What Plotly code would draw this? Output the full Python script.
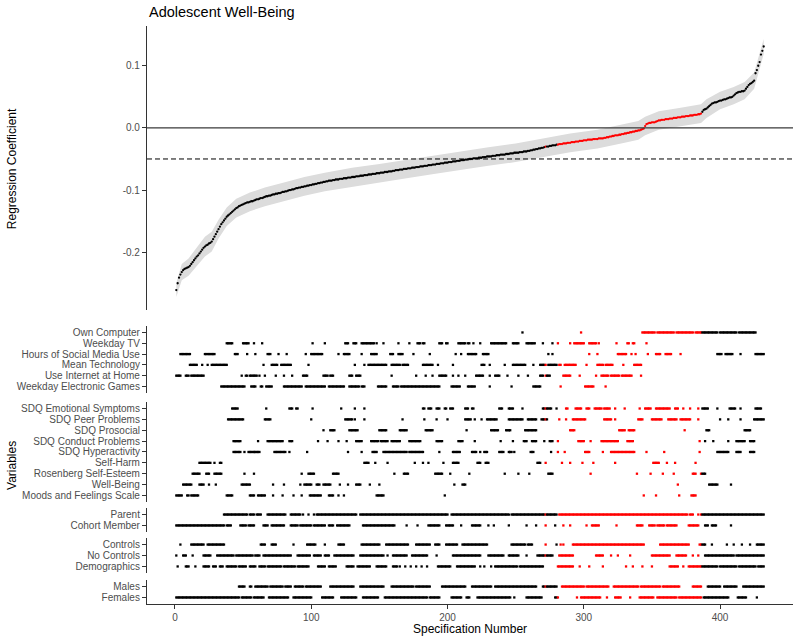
import plotly.graph_objects as go

chart_title = "Adolescent Well-Being"
y_title_top = "Regression Coefficient"
y_title_bottom = "Variables"
x_title = "Specification Number"

# Sorted regression coefficients, specifications 1..432
coef = [
    -0.261, -0.250, -0.241, -0.236, -0.232, -0.229, -0.227, -0.226, -0.225, -0.224,
    -0.222, -0.219, -0.216, -0.213, -0.210, -0.207, -0.205, -0.202, -0.199, -0.196,
    -0.193, -0.191, -0.189, -0.188, -0.186, -0.185, -0.183, -0.179, -0.175, -0.171,
    -0.167, -0.163, -0.159, -0.155, -0.152, -0.149, -0.146, -0.143, -0.141, -0.139,
    -0.137, -0.135, -0.133, -0.131, -0.129, -0.128, -0.126, -0.125, -0.124, -0.123,
    -0.122, -0.121, -0.120, -0.120, -0.119, -0.118, -0.118, -0.117, -0.116, -0.115,
    -0.115, -0.114, -0.113, -0.113, -0.112, -0.111, -0.110, -0.110, -0.109, -0.109,
    -0.108, -0.107, -0.107, -0.106, -0.106, -0.105, -0.105, -0.104, -0.103, -0.103,
    -0.102, -0.102, -0.101, -0.100, -0.100, -0.099, -0.099, -0.098, -0.097, -0.097,
    -0.096, -0.096, -0.095, -0.095, -0.094, -0.094, -0.093, -0.093, -0.092, -0.092,
    -0.091, -0.091, -0.090, -0.090, -0.089, -0.089, -0.088, -0.088, -0.087, -0.087,
    -0.086, -0.086, -0.085, -0.085, -0.085, -0.084, -0.084, -0.083, -0.083, -0.083,
    -0.082, -0.082, -0.082, -0.081, -0.081, -0.081, -0.080, -0.080, -0.080, -0.079,
    -0.079, -0.079, -0.078, -0.078, -0.078, -0.077, -0.077, -0.077, -0.076, -0.076,
    -0.076, -0.075, -0.075, -0.075, -0.074, -0.074, -0.074, -0.073, -0.073, -0.073,
    -0.072, -0.072, -0.072, -0.071, -0.071, -0.071, -0.070, -0.070, -0.070, -0.069,
    -0.069, -0.068, -0.068, -0.068, -0.067, -0.067, -0.067, -0.066, -0.066, -0.066,
    -0.065, -0.065, -0.065, -0.064, -0.064, -0.064, -0.063, -0.063, -0.063, -0.062,
    -0.062, -0.062, -0.061, -0.061, -0.061, -0.060, -0.060, -0.060, -0.059, -0.059,
    -0.059, -0.058, -0.058, -0.058, -0.057, -0.057, -0.057, -0.056, -0.056, -0.056,
    -0.055, -0.055, -0.055, -0.054, -0.054, -0.054, -0.053, -0.053, -0.053, -0.052,
    -0.052, -0.052, -0.051, -0.051, -0.051, -0.050, -0.050, -0.050, -0.049, -0.049,
    -0.049, -0.049, -0.048, -0.048, -0.048, -0.047, -0.047, -0.047, -0.046, -0.046,
    -0.046, -0.046, -0.045, -0.045, -0.045, -0.044, -0.044, -0.044, -0.043, -0.043,
    -0.043, -0.043, -0.042, -0.042, -0.042, -0.041, -0.041, -0.041, -0.040, -0.040,
    -0.040, -0.040, -0.039, -0.039, -0.039, -0.038, -0.038, -0.038, -0.037, -0.037,
    -0.036, -0.036, -0.035, -0.035, -0.034, -0.034, -0.033, -0.033, -0.032, -0.032,
    -0.031, -0.030, -0.030, -0.030, -0.029, -0.029, -0.028, -0.028, -0.028, -0.027,
    -0.027, -0.026, -0.026, -0.026, -0.025, -0.025, -0.025, -0.024, -0.024, -0.024,
    -0.023, -0.023, -0.023, -0.022, -0.022, -0.022, -0.021, -0.021, -0.021, -0.020,
    -0.020, -0.020, -0.019, -0.019, -0.019, -0.019, -0.018, -0.018, -0.018, -0.018,
    -0.017, -0.017, -0.017, -0.017, -0.016, -0.016, -0.015, -0.015, -0.014, -0.014,
    -0.013, -0.013, -0.012, -0.012, -0.012, -0.011, -0.011, -0.010, -0.010, -0.009,
    -0.009, -0.008, -0.008, -0.007, -0.007, -0.006, -0.006, -0.005, -0.005, -0.004,
    -0.004, -0.003, -0.002, -0.001, 0.003, 0.006, 0.007, 0.008, 0.008, 0.009,
    0.009, 0.009, 0.010, 0.011, 0.012, 0.012, 0.013, 0.013, 0.013, 0.014,
    0.014, 0.014, 0.015, 0.015, 0.015, 0.016, 0.016, 0.016, 0.017, 0.017,
    0.017, 0.018, 0.018, 0.018, 0.019, 0.019, 0.019, 0.020, 0.020, 0.020,
    0.021, 0.021, 0.021, 0.022, 0.022, 0.023, 0.026, 0.029, 0.030, 0.031,
    0.033, 0.035, 0.037, 0.039, 0.040, 0.041, 0.041, 0.042, 0.043, 0.044,
    0.044, 0.045, 0.046, 0.046, 0.047, 0.048, 0.049, 0.049, 0.050, 0.052,
    0.054, 0.056, 0.057, 0.058, 0.058, 0.059, 0.059, 0.060, 0.063, 0.066,
    0.069, 0.071, 0.072, 0.074, 0.076, 0.088, 0.093, 0.100, 0.106, 0.118,
    0.124, 0.131,
]

# Confidence band outline (read at selected specifications)
band_spec = [1, 5, 10, 17, 22, 27, 32, 38, 45, 55, 66, 80, 95, 110, 130, 150, 170, 190, 210,
             230, 250, 270, 290, 310, 330, 340, 345, 355, 370, 386, 390, 400, 410, 418, 425, 428, 432]
band_low = [-0.272, -0.245, -0.238, -0.220, -0.207, -0.199, -0.178, -0.158, -0.144, -0.134,
            -0.126, -0.118, -0.109, -0.102, -0.094, -0.088, -0.081, -0.074, -0.067, -0.061,
            -0.055, -0.047, -0.039, -0.033, -0.024, -0.019, -0.012, -0.003, 0.002, 0.008,
            0.016, 0.030, 0.038, 0.046, 0.063, 0.088, 0.119]
band_high = [-0.250, -0.219, -0.210, -0.190, -0.175, -0.167, -0.148, -0.128, -0.114, -0.104,
             -0.096, -0.088, -0.079, -0.072, -0.064, -0.058, -0.051, -0.044, -0.037, -0.031,
             -0.025, -0.017, -0.009, -0.003, 0.006, 0.011, 0.018, 0.027, 0.032, 0.038,
             0.046, 0.058, 0.066, 0.074, 0.089, 0.112, 0.143]

reference_line = -0.05

# Specifications whose interval includes zero (drawn red)
nonsig_ranges = "272 281-386"

tech_labels = ["Own Computer", "Weekday TV", "Hours of Social Media Use", "Mean Technology",
               "Use Internet at Home", "Weekday Electronic Games"]
tech_specs = [
    "255 298 343-352 354-366 368-380 382-398 400-412 414-426",
    "38-42 50-54 58 64 101 110 125-127 131-133 137-146 148 153 164 172 178-180 182-183 194-196 "
    "199-200 208-213 215-216 219 224 232-243 248-252 258-264 270 277 281 290 293-300 304-309 311 324 "
    "332-333 336-337 346",
    "4-11 22-29 44-46 53 59 68-70 76 82 96 100-108 120 124-128 137 144-148 158-160 164-167 175 187 "
    "206 210 215-221 226-230 274 277 304 310 325-331 335 338 347 353-356 360-364 371 398-401 "
    "404-409 415 426-432",
    "11-16 20 24 27-38 65 71-75 78-85 98 132 139 142-155 159-165 167-171 182-189 193 204 225-227 "
    "231 242 248-257 263 268-272 274-280 282-283 286-294 302 310-314 316-321 329 337-342",
    "1-4 8-10 12-21 49 52-53 55-60 62 66 74 80 86 94-97 109-112 114-116 128-130 133-136 159 177 "
    "184 189 194-199 204 208 213 221-226 231 235-238 244 252 259 268-270 272-275 285-290 297 309 "
    "313-318 320-326 328-335 342",
    "34-51 56-59 63-64 67-71 80-93 96-110 113-124 128-135 137-139 149-155 160-164 166-194 203-209 "
    "215-220 231 247 263-268 283 301-307 316",
]

outcome_labels = ["SDQ Emotional Symptoms", "SDQ Peer Problems", "SDQ Prosocial",
                  "SDQ Conduct Problems", "SDQ Hyperactivity", "Self-Harm",
                  "Rosenberg Self-Esteem", "Well-Being", "Moods and Feelings Scale"]
outcome_specs = [
    "42-46 67 84-86 89-90 101 122 132 139 182-183 186-188 192-194 198-199 202-204 213-215 218-219 "
    "238-240 245-248 255 270-276 280 287-288 294-298 302-304 308-313 315-319 323 330 341 345-349 "
    "353-363 367-369 373 378 384 387-391 398 407-411 415 426-430",
    "39-50 66-70 100 125-130 132 139 167 183 192 200 213-217 220 225 229-236 245-255 259-265 "
    "269-273 282 287 292-301 315-320 323 340-343 350-357 362-368 371-378 384 400 406 415 425-432",
    "109 114-117 128-134 150-155 165-170 184-189 214 232-237 243-246 257-265 290-293 326-330 "
    "333-337 374 390-392 418-422",
    "43-48 61 68-79 84-86 105 112 120 126 133-137 144-149 151-156 159-165 172-180 192-196 208-211 "
    "220 239 248 256-258 262-265 271 275-277 281 296-300 305 313-325 332-336 385 389 395 406 "
    "412-418 422-425",
    "43-48 51 54-62 73-81 84 97 127 137 145-148 153-170 172-182 194 204-209 218-221 224 227-229 "
    "238-241 245-247 249 261-263 276 281 286 301-304 314 320-337 346 359 385 398-406 412-415 422-425",
    "18-26 29 33-34 139-142 147 156 176 182 186 197 204-208 222-224 228-230 266-268 272 284 290 "
    "299 307 323 351-355 361 367 382",
    "13-18 23-25 29-34 51 58 93 98-102 116-120 161 168-171 191-196 202 216 242 252 260 274-277 "
    "305 339 349 358 366 380-382 386-389",
    "6-12 18-21 25 30 49-55 72 80 92 95-100 104-106 109-114 121 127 133-136 143 150 205 211-213 "
    "369 392-398 408",
    "1-5 9-10 12-17 38-42 55-58 61-66 72 79 87 93 99-107 113-116 120 124 148-153 198 344 353 370 "
    "379-382",
]

respondent_labels = ["Parent", "Cohort Member"]
respondent_specs = [
    "36-53 55-58 60-63 68-81 85-92 94 98 102 104-133 136-200 203-245 247-280 282-376 378-380 384 "
    "386-432",
    "1-36 38-41 48-52 54-58 65-68 71-80 85-90 92-100 102-110 113-116 119-128 138-161 170 178 "
    "186-194 199-204 210 218-224 230 234 245 258 265 272 279 285 290 302 306-311 324 339-343 "
    "348-352 354-359 361-368 377-384 389-391 394-397 408",
]

control_labels = ["Controls", "No Controls", "Demographics"]
control_specs = [
    "4 12-21 24-36 63-66 71-74 87 97-103 110 120-124 137-150 155-171 177-187 191-194 199-207 "
    "211-229 247-257 259-262 272 280 283 285 292-344 356-377 385-389 394 405 410 416 422 427-432",
    "1 6-8 13 21-26 31-43 45-57 59-62 65-85 90-99 102-107 110-113 117-131 136-153 156 160-170 "
    "174-185 192 204-224 230-241 245-252 258 266-277 282-292 309-314 320 325 334 350-363 368-375 "
    "380 384 389-410 412-432",
    "2 8-10 15 21-25 28-30 33-35 38-45 47-52 55-59 62-66 68-78 80-88 90-98 105-110 113-118 "
    "126-131 134-143 148-155 160-163 165 169 173 177 181 185 193-202 207-220 224 227 232 235-251 "
    "253-270 281-292 297 304 314 331 336 343 350 363-369 373 377-398 400-412 414-426 428-432",
]

sex_labels = ["Males", "Females"]
sex_specs = [
    "47-51 55-56 59-68 70-79 81-85 88-94 96-107 114-131 136-153 159-175 177-187 196-213 218-232 "
    "235-265 270-280 284-300 302-318 322-340 342-356 358-370 380-386 391-400 403-412 417-432",
    "1-47 49-56 58-65 69-83 87-100 108-116 122-133 138-149 154-185 187-194 203-210 214-216 "
    "222-246 249 258-269 279-281 295 298-312 317 323-327 334 341-351 354-368 370-386 388-406 "
    "413-419 427",
]

x_tick_values = [0, 100, 200, 300, 400]
y_tick_values = [-0.2, -0.1, 0.0, 0.1]
y_tick_labels = ["-0.2", "-0.1", "0.0", "0.1"]


def expand(text):
    out = []
    for tok in text.split():
        if "-" in tok:
            a, b = tok.split("-")
            out.extend(range(int(a), int(b) + 1))
        else:
            out.append(int(tok))
    return out


FONT = "Liberation Sans, Arial, Helvetica, sans-serif"
RED = "#ff0000"
BLACK = "#000000"
AXIS = "#333333"
TICKFONT = dict(family=FONT, size=10, color="#4d4d4d")

nonsig = set(expand(nonsig_ranges))
spec = list(range(1, len(coef) + 1))
coef_colors = [RED if s in nonsig else BLACK for s in spec]

fig = go.Figure()

# confidence band
fig.add_trace(go.Scatter(
    x=band_spec + band_spec[::-1], y=band_high + band_low[::-1],
    fill="toself", fillcolor="#dcdcdc", line=dict(width=0), mode="lines",
    hoverinfo="skip", showlegend=False, xaxis="x", yaxis="y"))

fig.add_trace(go.Scatter(
    x=spec, y=coef, mode="markers",
    marker=dict(size=2.3, color=coef_colors, line=dict(width=0)),
    showlegend=False, xaxis="x", yaxis="y"))

groups = [(tech_labels, tech_specs), (outcome_labels, outcome_specs),
          (respondent_labels, respondent_specs), (control_labels, control_specs),
          (sex_labels, sex_specs)]
# facet domains (paper fractions)
domains = [[0.3651, 0.4810], [0.1765, 0.3495], [0.1246, 0.1661], [0.0536, 0.1142], [0.0, 0.0415]]
x_range = [-20.5, 453.5]

layout = dict(
    width=800, height=640,
    margin=dict(l=147, r=7, t=26, b=36),
    paper_bgcolor="white", plot_bgcolor="white",
    showlegend=False,
    font=dict(family=FONT, color="black"),
    xaxis=dict(domain=[0, 1], range=x_range, anchor="y", showline=False, showgrid=False,
               zeroline=False, showticklabels=False, ticks=""),
    yaxis=dict(domain=[0.5087, 1.0], range=[-0.293, 0.164], anchor="x",
               tickvals=y_tick_values, ticktext=y_tick_labels, tickfont=TICKFONT,
               ticks="outside", ticklen=4, tickcolor=AXIS, showline=True, linecolor=AXIS,
               linewidth=1.1, showgrid=False, zeroline=False, automargin=False),
)

for gi, (labels, specs) in enumerate(groups):
    n = len(labels)
    xs, ys, cs = [], [], []
    for i, s in enumerate(specs):
        for v in expand(s):
            xs.append(v)
            ys.append(n - 1 - i)
            cs.append(RED if v in nonsig else BLACK)
    k = gi + 2
    fig.add_trace(go.Scatter(
        x=xs, y=ys, mode="markers",
        marker=dict(symbol="square", size=2.3, color=cs, line=dict(width=0)),
        showlegend=False, xaxis=f"x{k}", yaxis=f"y{k}"))
    last = gi == len(groups) - 1
    layout[f"xaxis{k}"] = dict(
        domain=[0, 1], range=x_range, anchor=f"y{k}", matches="x",
        showline=last, linecolor=AXIS, linewidth=1.1, showgrid=False, zeroline=False,
        showticklabels=last, ticks="outside" if last else "", ticklen=4, tickcolor=AXIS,
        tickvals=x_tick_values, tickfont=TICKFONT, automargin=False)
    layout[f"yaxis{k}"] = dict(
        domain=domains[gi], range=[-0.6, n - 0.4], anchor=f"x{k}",
        tickvals=list(range(n)), ticktext=labels[::-1], tickfont=TICKFONT,
        ticks="outside", ticklen=4, tickcolor=AXIS, showline=True, linecolor=AXIS,
        linewidth=1.1, showgrid=False, zeroline=False, automargin=False)

fig.update_layout(**layout)

# zero line and reference (dashed) line in the top panel
fig.add_shape(type="line", xref="x domain", yref="y", x0=0, x1=1, y0=0, y1=0,
              line=dict(color="#3a3a3a", width=1.3))
fig.add_shape(type="line", xref="x domain", yref="y", x0=0, x1=1,
              y0=reference_line, y1=reference_line,
              line=dict(color="black", width=1, dash="5px,3px"))

annotations = [
    dict(text=chart_title, xref="paper", yref="paper", x=0, y=1, xanchor="left",
         yanchor="middle", yshift=14, showarrow=False, font=dict(family=FONT, size=14.5, color="black")),
    dict(text=y_title_top, xref="paper", yref="paper", x=-0.209, y=0.754, textangle=-90,
         xanchor="center", yanchor="middle", showarrow=False, font=dict(family=FONT, size=12, color="black")),
    dict(text=y_title_bottom, xref="paper", yref="paper", x=-0.209, y=0.2405, textangle=-90,
         xanchor="center", yanchor="middle", showarrow=False, font=dict(family=FONT, size=12, color="black")),
    dict(text=x_title, xref="paper", yref="paper", x=0.5, y=0, yshift=-25,
         xanchor="center", yanchor="middle", showarrow=False, font=dict(family=FONT, size=12, color="black")),
]
fig.update_layout(annotations=annotations)

# remove the default 8px page margin so the 800x640 figure fills the window exactly
fig.write_html("out.html", config={"responsive": False, "displayModeBar": False},
               post_script="document.body.style.margin='0';")
